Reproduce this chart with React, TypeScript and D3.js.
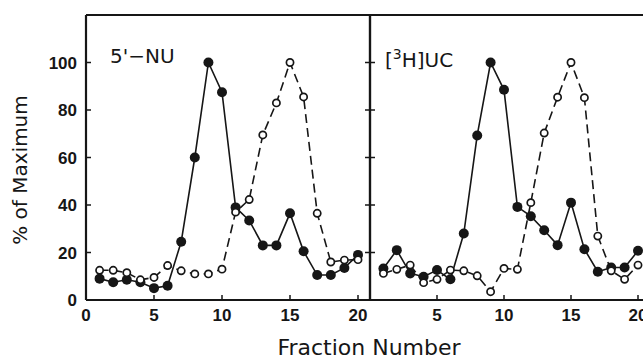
import * as d3 from "d3";
import React from "react";

// fraction numbers shared by both panels
const fractions = [1, 2, 3, 4, 5, 6, 7, 8, 9, 10, 11, 12, 13, 14, 15, 16, 17, 18, 19, 20];

// 5'-NU panel
const nuFilled = [9, 7.5, 8.5, 7.5, 5, 6, 24.5, 60, 100, 87.5, 39, 33.5, 23, 23, 36.5, 20.5, 10.5, 10.5, 13.5, 19];
const nuOpen = [12.5, 12.5, 11.5, 8.5, 9.5, 14.5, 12.3, 11, 11, 13, 37, 42.3, 69.5, 83, 100, 85.5, 36.5, 16, 16.8, 17];

// [3H]UC panel
const ucFilled = [13.3, 21, 11.2, 9.8, 12.6, 8.7, 28, 69.3, 100, 88.5, 39.2, 35.3, 29.4, 23.1, 41, 21.4, 11.9, 13.7, 13.7, 20.7];
const ucOpen = [11.2, 12.9, 14.7, 7.3, 8.7, 12.6, 12.3, 10.2, 3.5, 13.3, 12.9, 41, 70.3, 85.4, 100, 85.2, 26.9, 12.3, 8.7, 14.7];

const yTicks = [0, 20, 40, 60, 80, 100];
const xTicks = [0, 5, 10, 15, 20];

const W = 643;
const H = 359;
const top = 15;
const bottom = 300;
const ink = "#161616";

const y = d3.scaleLinear().domain([0, 120]).range([bottom, top]);

const panels = [
  { name: "nu", filled: nuFilled, open: nuOpen, x: d3.scaleLinear().domain([0, 20]).range([86, 358]), left: 86, right: 370 },
  { name: "uc", filled: ucFilled, open: ucOpen, x: d3.scaleLinear().domain([0, 20]).range([370, 638]), left: 370, right: 654 },
];

export default function App() {
  return (
    <svg width={W} height={H} style={{ display: "block", position: "absolute", left: 0, top: 0, background: "#fff" }}>
      <rect width={W} height={H} fill="#fff" />
      {panels.map((p) => {
        const line = d3
          .line<number>()
          .x((_, i) => p.x(fractions[i]))
          .y((d) => y(d));
        return (
          <g key={p.name}>
            {/* frame */}
            <line x1={p.left} x2={p.right} y1={top} y2={top} stroke={ink} strokeWidth={2} />
            <line x1={p.left} x2={p.right} y1={bottom} y2={bottom} stroke={ink} strokeWidth={2} />
            <line x1={p.left} x2={p.left} y1={top} y2={bottom} stroke={ink} strokeWidth={2.2} />
            <line x1={p.right} x2={p.right} y1={top} y2={bottom} stroke={ink} strokeWidth={2.2} />
            {/* y ticks, inward on both sides */}
            {yTicks.slice(1).map((t) => (
              <g key={t}>
                <line x1={p.left} x2={p.left + 5} y1={y(t)} y2={y(t)} stroke={ink} strokeWidth={1.5} />
                <line x1={p.right - 5} x2={p.right} y1={y(t)} y2={y(t)} stroke={ink} strokeWidth={1.5} />
              </g>
            ))}
            {/* x ticks */}
            {xTicks.map((t) => (
              <g key={t}>
                {t > 0 && <line x1={p.x(t)} x2={p.x(t)} y1={bottom} y2={bottom - 5} stroke={ink} strokeWidth={1.5} />}
                {(p.name === "nu" || t > 0) && (
                  <text x={p.x(t)} y={321} textAnchor="middle" fontFamily="Liberation Sans, Arial" fontWeight="bold" fontSize={17} fill={ink}>
                    {t}
                  </text>
                )}
              </g>
            ))}
            {/* series */}
            <path d={line(p.filled) ?? ""} fill="none" stroke={ink} strokeWidth={1.6} />
            <path d={line(p.open) ?? ""} fill="none" stroke={ink} strokeWidth={1.6} strokeDasharray="9,5" />
            {p.filled.map((v, i) => (
              <circle key={"f" + i} cx={p.x(fractions[i])} cy={y(v)} r={5} fill={ink} />
            ))}
            {p.open.map((v, i) => (
              <circle key={"o" + i} cx={p.x(fractions[i])} cy={y(v)} r={3.6} fill="#fff" stroke={ink} strokeWidth={1.7} />
            ))}
          </g>
        );
      })}
      {/* y tick labels on the left panel */}
      {yTicks.map((t) => (
        <text key={t} x={77} y={y(t) + 6} textAnchor="end" fontFamily="Liberation Sans, Arial" fontWeight="bold" fontSize={17} fill={ink}>
          {t}
        </text>
      ))}
      <text x={110} y={63} fontFamily="DejaVu Sans, Liberation Sans" fontSize={20} fill={ink}>
        5'−NU
      </text>
      <text x={385} y={67} fontFamily="DejaVu Sans, Liberation Sans" fontSize={20} fill={ink}>
        [<tspan dy={-8} fontSize={14}>3</tspan>
        <tspan dy={8}>H]UC</tspan>
      </text>
      <text
        transform="translate(27,170) rotate(-90)"
        textAnchor="middle"
        fontFamily="DejaVu Sans, Liberation Sans"
        fontSize={20}
        fill={ink}
      >
        % of Maximum
      </text>
      <text x={369} y={355} textAnchor="middle" fontFamily="DejaVu Sans, Liberation Sans" fontSize={22} fill={ink}>
        Fraction Number
      </text>
    </svg>
  );
}
